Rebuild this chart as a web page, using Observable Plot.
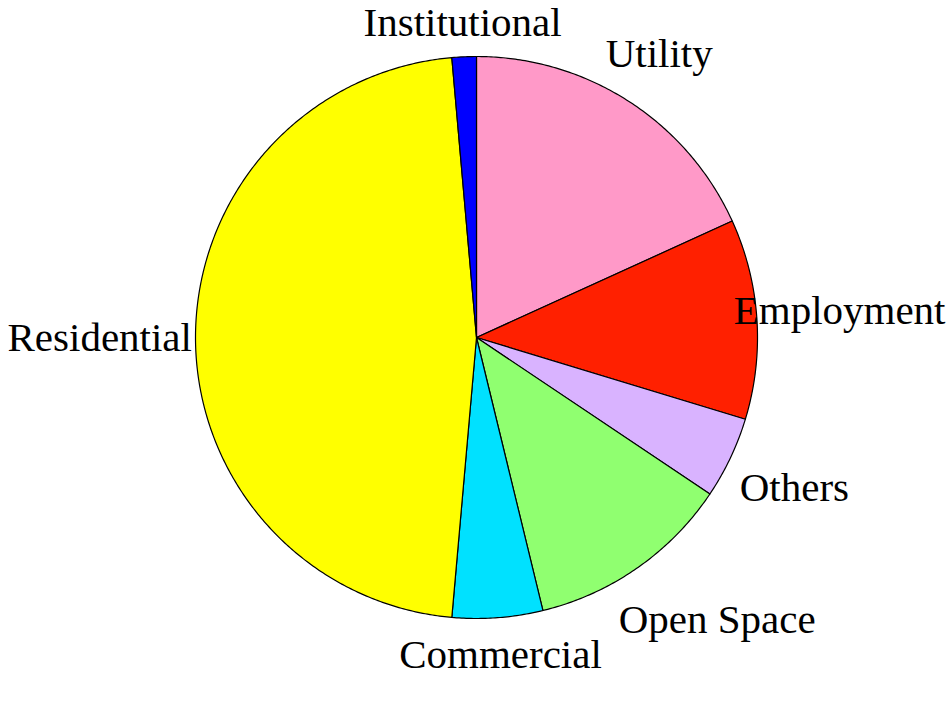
<!DOCTYPE html>
<html>
<head>
<meta charset="utf-8">
<script src="https://cdn.jsdelivr.net/npm/d3@7"></script>
<script src="https://cdn.jsdelivr.net/npm/@observablehq/plot@0.6"></script>
<style>
  html, body { margin: 0; padding: 0; background: #fff; }
  #chart svg { display: block; }
</style>
</head>
<body>
<div id="chart"></div>
<script>
// ---- data (clockwise from 12 o'clock) ----
const categories = ["Utility", "Employment", "Others", "Open Space", "Commercial", "Residential", "Institutional"];
const shares = [18.2, 11.5, 4.7, 11.8, 5.2, 47.2, 1.4];
const colors = ["#FF99C8", "#FF2000", "#D9B3FF", "#90FF70", "#00E1FF", "#FFFF00", "#0000FF"];

// ---- layout ----
const W = 952, H = 714;
const cx = 476, cy = 337, R = 281;      // pie centre and radius in pixels
const fontSize = 41, fontFamily = "Liberation Serif, Times New Roman, serif";
const gap = 15, halfH = 15, boxH = 18, pad = 15, edge = 7;

// pie angles via d3.pie (clockwise from top, original order)
const arcs = d3.pie().value(d => d).sort(null)(shares);

// polygons for each slice, in unit-circle coordinates (y up)
const slices = arcs.map((a, i) => {
  const pts = [{x: 0, y: 0}];
  const n = Math.max(2, Math.ceil((a.endAngle - a.startAngle) / (Math.PI / 360)));
  for (let k = 0; k <= n; k++) {
    const t = a.startAngle + (a.endAngle - a.startAngle) * k / n;
    pts.push({x: Math.sin(t), y: Math.cos(t)});
  }
  pts.push({x: 0, y: 0});
  return {name: categories[i], color: colors[i], pts};
});

// label placement: box just outside the rim along the mid angle,
// slid along the rim if it collides with another label, kept inside the figure
const ctx = document.createElement("canvas").getContext("2d");
ctx.font = `${fontSize}px ${fontFamily}`;
function place(t, hw) {
  const s = Math.sin(t), c = Math.cos(t);
  const d = R + gap + hw * Math.abs(s) + halfH * Math.abs(c);
  let px = cx + d * s, py = cy - d * c;
  px = Math.min(W - edge - hw, Math.max(edge + hw, px));
  return {px, py};
}
const overlaps = (a, b) =>
  Math.abs(a.px - b.px) < a.hw + b.hw + pad && Math.abs(a.py - b.py) < 2 * boxH + pad;

const placed = [];
const order = categories.map((_, i) => i).reverse();
for (const i of order) {
  const a = arcs[i];
  const mid = (a.startAngle + a.endAngle) / 2;
  const hw = ctx.measureText(categories[i]).width / 2;
  let t = mid, box = {...place(t, hw), hw, t};
  for (let step = 0; step < 80; step++) {
    const hit = placed.find(p => overlaps(box, p));
    if (!hit) break;
    t += (mid < hit.t ? -1 : 1) * Math.PI / 360;
    box = {...place(t, hw), hw, t};
  }
  placed.push({...box, name: categories[i]});
}
const labels = placed.map(b => ({name: b.name, x: (b.px - cx) / R, y: (cy - b.py) / R}));

const marks = slices.map(s =>
  Plot.line(s.pts, {x: "x", y: "y", fill: s.color, stroke: "black", strokeWidth: 1.2, curve: "linear"})
);
marks.push(Plot.text(labels, {
  x: "x", y: "y", text: "name",
  fontSize, fontFamily, fill: "black",
  textAnchor: "middle", lineAnchor: "middle"
}));

const chart = Plot.plot({
  width: W, height: H,
  margin: 0,
  x: {domain: [-cx / R, (W - cx) / R], axis: null},
  y: {domain: [-(H - cy) / R, cy / R], axis: null},
  style: {fontFamily, background: "white", overflow: "visible"},
  marks
});
document.getElementById("chart").appendChild(chart);
</script>
</body>
</html>
